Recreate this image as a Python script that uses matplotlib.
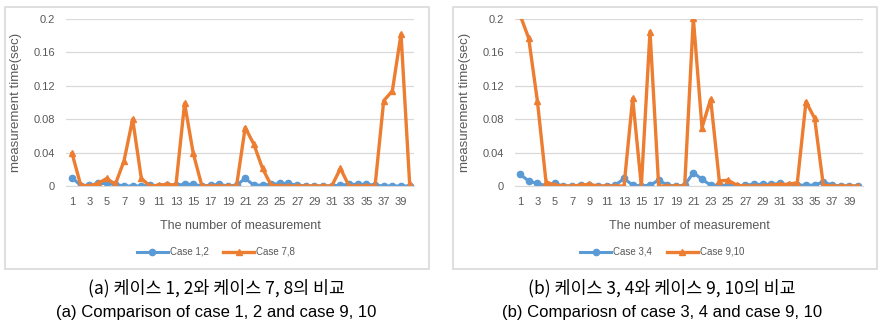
import numpy as np
import matplotlib
matplotlib.use("Agg")
import matplotlib.pyplot as plt
from matplotlib.patches import Rectangle

plt.rcParams['font.family'] = ['Liberation Sans', 'Noto Sans CJK KR', 'DejaVu Sans']

x = np.arange(1, 41)

case12 = [0.010, 0.0005, 0.001, 0.003, 0.003, 0.002, 0.0, 0.0, 0.0, 0.001,
          0.0, 0.001, 0.001, 0.002, 0.002, 0.0, 0.001, 0.002, 0.0, 0.001,
          0.009, 0.001, 0.001, 0.002, 0.003, 0.003, 0.001, 0.0, 0.0, 0.0,
          0.0, 0.001, 0.002, 0.002, 0.002, 0.001, 0.0, 0.0, 0.0, 0.0]
case78 = [0.039, 0.001, 0.0, 0.003, 0.009, 0.002, 0.030, 0.080, 0.009, 0.0,
          0.001, 0.002, 0.001, 0.099, 0.039, 0.0, 0.0, 0.0, 0.0, 0.0,
          0.070, 0.050, 0.021, 0.001, 0.0, 0.0, 0.0, 0.0, 0.0, 0.0,
          0.0, 0.021, 0.0, 0.0, 0.0, 0.0, 0.102, 0.114, 0.182, 0.002]

case34 = [0.014, 0.006, 0.003, 0.0005, 0.003, 0.0, 0.0, 0.001, 0.001, 0.0,
          0.0, 0.001, 0.009, 0.001, 0.0, 0.001, 0.007, 0.001, 0.0, 0.001,
          0.016, 0.008, 0.001, 0.001, 0.001, 0.0, 0.001, 0.002, 0.002, 0.002,
          0.003, 0.001, 0.001, 0.001, 0.001, 0.005, 0.001, 0.0, 0.0, 0.0]
case910 = [0.205, 0.177, 0.102, 0.005, 0.001, 0.0, 0.0, 0.001, 0.002, 0.0,
           0.0, 0.0, 0.0, 0.105, 0.0, 0.185, 0.0, 0.0, 0.0, 0.0,
           0.201, 0.070, 0.104, 0.006, 0.007, 0.001, 0.0, 0.0, 0.0, 0.001,
           0.002, 0.002, 0.004, 0.101, 0.081, 0.001, 0.0, 0.0, 0.0, 0.0]

yticks = [0, 0.04, 0.08, 0.12, 0.16, 0.2]
yticklabels = ['0', '0.04', '0.08', '0.12', '0.16', '0.2']
xticks = list(range(1, 41, 2))

captions_ko = ['(a) 케이스 1, 2와 케이스 7, 8의 비교', '(b) 케이스 3, 4와 케이스 9, 10의 비교']
captions_en = ['(a) Comparison of case 1, 2 and case 9, 10', '(b) Compariosn of case 3, 4 and case 9, 10']
labels = [('Case 1,2', 'Case 7,8'), ('Case 3,4', 'Case 9,10')]

BLUE = '#5B9BD5'
ORANGE = '#ED7D31'
GRAY = '#595959'

W, H = 882, 328
fig = plt.figure(figsize=(W / 100, H / 100), dpi=100)

def px(x0, y0, x1, y1):
    return [x0 / W, 1 - y1 / H, (x1 - x0) / W, (y1 - y0) / H]

panels = [
    dict(box=(5, 7, 429, 269), ax=(66, 19, 414, 186), xlim=(0.3, 40.5), blue=case12, orange=case78, cx=216),
    dict(box=(453, 7, 877, 269), ax=(515, 19, 863, 186), xlim=(0.42, 40.58), blue=case34, orange=case910, cx=662),
]

for i, p in enumerate(panels):
    bx0, by0, bx1, by1 = p['box']
    fig.patches.append(Rectangle((bx0 / W, 1 - by1 / H), (bx1 - bx0) / W, (by1 - by0) / H,
                                 transform=fig.transFigure, fill=False, edgecolor='#D9D9D9', lw=1.2))
    ax = fig.add_axes(px(*p['ax']))
    ax.plot(x, p['blue'], color=BLUE, lw=2.2, marker='o', ms=4.5, label=labels[i][0])
    ax.plot(x, p['orange'], color=ORANGE, lw=2.4, marker='^', ms=5, label=labels[i][1])
    ax.set_xlim(*p['xlim'])
    ax.set_ylim(0, 0.2)
    ax.set_yticks(yticks)
    ax.set_yticklabels(yticklabels)
    ax.set_xticks(xticks)
    ax.grid(axis='y', color='#D9D9D9', lw=0.9)
    ax.set_axisbelow(True)
    for s in ['top', 'right', 'left']:
        ax.spines[s].set_visible(False)
    ax.spines['bottom'].set_color('#D9D9D9')
    ax.tick_params(length=0, labelsize=8, colors=GRAY, pad=8)
    ax.set_xlabel('The number of measurement', fontsize=9, color=GRAY, labelpad=9)
    ax.set_ylabel('measurement time(sec)', fontsize=9.5, color=GRAY, labelpad=8)
    fig.legend(handles=ax.get_lines(), loc='center', bbox_to_anchor=(p['cx'] / W, 1 - 252 / H),
               ncol=2, frameon=False, fontsize=7, labelcolor=GRAY, handlelength=3.2,
               columnspacing=1.5, handletextpad=0.2)
    fig.text(p['cx'] / W, 1 - 288 / H, captions_ko[i], ha='center', va='center', fontsize=12.5,
             family=['Noto Sans CJK KR', 'DejaVu Sans'])
    fig.text(p['cx'] / W, 1 - 312 / H, captions_en[i], ha='center', va='center', fontsize=12,
             family=['Liberation Sans', 'DejaVu Sans'])

fig.savefig('out.png', dpi=100)
